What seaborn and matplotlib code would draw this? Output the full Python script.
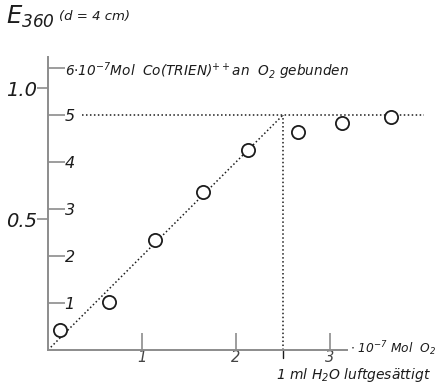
import matplotlib
matplotlib.use('Agg')
import matplotlib.pyplot as plt
import pandas as pd
import seaborn as sns

# measured points: added O2 (10^-7 Mol) vs bound Co(TRIEN) (10^-7 Mol)
o2_added = [0.13, 0.65, 1.14, 1.65, 2.13, 2.66, 3.13, 3.65]
co_bound = [0.43, 1.02, 2.34, 3.36, 4.26, 4.64, 4.83, 4.96]

inner_ticks = [1, 2, 3, 4, 5, 6]
inner_labels = ['1', '2', '3', '4', '5',
                r'6$\cdot$10$^{-7}$Mol  Co(TRIEN)$^{++}$an  O$_2$ gebunden']
e_ticks = [0.5, 1.0]
e_labels = ['0.5', '1.0']
x_ticks = [1, 2, 3]
x_labels = ['1', '2', '3']

plateau = 5.0
equivalence = 2.5
units_per_e = 5.57  # inner scale units per unit of extinction

sns.set_style("white")
plt.rcParams['font.family'] = ['DejaVu Sans']
plt.rcParams['font.style'] = 'italic'
plt.rcParams['mathtext.fontset'] = 'dejavusans'
plt.rcParams['mathtext.default'] = 'it'

ink = '#1c1c1c'
axis_grey = '#8c8c8c'

fig = plt.figure(figsize=(4.37, 3.83), dpi=100)
ax = fig.add_axes([48 / 437, 33 / 383, 389 / 437, 350 / 383])
ax.set_xlim(0, 389 / 94)
ax.set_ylim(0, 350 / 47)

# dotted construction lines
dots = (0, (1, 1.6))
ax.plot([0, equivalence], [0, plateau], linestyle=dots, color=ink, lw=1.1)
ax.plot([0.36, 4.0], [plateau, plateau], linestyle=dots, color=ink, lw=1.1)
ax.plot([equivalence, equivalence], [0, plateau], linestyle=dots, color=ink, lw=1.1)
ax.plot([equivalence, equivalence], [-0.18, 0], color=ink, lw=1.0, clip_on=False)

df = pd.DataFrame({'o2': o2_added, 'co': co_bound})
sns.scatterplot(data=df, x='o2', y='co', ax=ax, s=90, facecolor='white',
                edgecolor=ink, linewidth=1.3, zorder=5)
ax.set_xlabel('')
ax.set_ylabel('')

# spines
for side in ['top', 'right']:
    ax.spines[side].set_visible(False)
ax.spines['left'].set_bounds(0, 6.23)
ax.spines['bottom'].set_bounds(0, 3.18)
for side in ['left', 'bottom']:
    ax.spines[side].set_color(axis_grey)
    ax.spines[side].set_linewidth(1.4)

# extinction scale on the outside of the left spine
ax.set_yticks([e * units_per_e for e in e_ticks], e_labels)
ax.tick_params(axis='y', direction='out', length=8, width=1.2,
               color=axis_grey, labelsize=14, pad=0, labelcolor=ink,
               left=True)

# x ticks
ax.set_xticks(x_ticks, x_labels)
ax.tick_params(axis='x', direction='in', length=12, width=1.2,
               color=axis_grey, labelsize=10.5, pad=0, labelcolor='#444',
               bottom=True)

# inner Co scale on the right side of the left spine
tw = ax.twinx()
tw.set_ylim(ax.get_ylim())
tw.spines['right'].set_position(('data', 0))
for side in ['top', 'right', 'left', 'bottom']:
    tw.spines[side].set_visible(False)
tw.set_yticks(inner_ticks, inner_labels)
tw.tick_params(axis='y', direction='out', length=12, width=1.2,
               color=axis_grey, labelsize=11.5, pad=0, labelcolor=ink)
for lab in tw.get_yticklabels()[-1:]:
    lab.set_fontsize(9.8)

ax.text(3.21, 0.02, r'$\cdot$ 10$^{-7}$ Mol  O$_2$', ha='left', va='center',
        fontsize=8.8, color=ink, clip_on=False)
ax.text(2.43, -0.54, r'1 ml H$_2$O luftgesättigt', ha='left', va='center',
        fontsize=10, color=ink, clip_on=False)

fig.text(6 / 437, 1 - 4 / 383, r'$E_{360}$', fontsize=17.5, va='top',
         ha='left', color=ink)
fig.text(59 / 437, 1 - 10 / 383, '(d = 4 cm)', fontsize=9.5, va='top',
         ha='left', color=ink)

fig.savefig('out.png', dpi=100)
